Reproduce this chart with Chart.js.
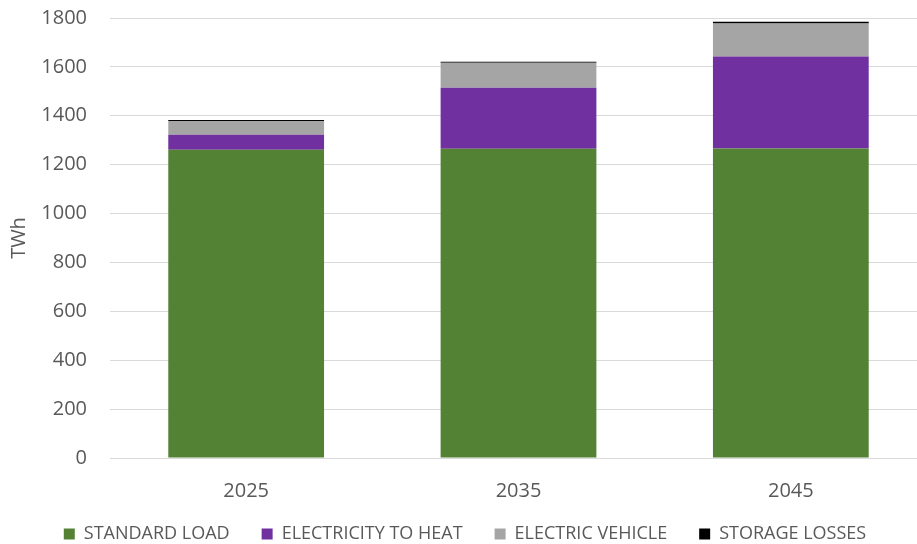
<!DOCTYPE html>
<html>
<head>
<meta charset="utf-8">
<script src="https://cdn.jsdelivr.net/npm/chart.js@4"></script>
<style>
  html, body { margin: 0; padding: 0; background: #fff; overflow: hidden; }
  .wrap { width: 930px; height: 601px; margin-top: -17px; position: relative; }
</style>
</head>
<body>
<div class="wrap"><canvas id="myChart"></canvas></div>
<script>
// data
const years = ["2025", "2035", "2045"];
const standardLoad = [1261, 1265, 1266];
const electricityToHeat = [61, 250, 376];
const electricVehicle = [57, 102, 136];
const storageLosses = [4, 4, 7];
const yTicks = [0, 200, 400, 600, 800, 1000, 1200, 1400, 1600, 1800];

const textColor = "#595959";
const fontFamily = "'Open Sans', sans-serif";
const legendLiftPx = 31;

// setup
const data = {
  labels: years,
  datasets: [
    { label: "STANDARD LOAD", data: standardLoad, backgroundColor: "#548235" },
    { label: "ELECTRICITY TO HEAT", data: electricityToHeat, backgroundColor: "#7030A0" },
    { label: "ELECTRIC VEHICLE", data: electricVehicle, backgroundColor: "#A5A5A5" },
    { label: "STORAGE LOSSES", data: storageLosses, backgroundColor: "#000000" },
  ],
};

// pull the legend up closer to the year labels
const legendLift = {
  id: "legendLift",
  afterLayout(chart) {
    chart.legend.top -= legendLiftPx;
    chart.legend.bottom -= legendLiftPx;
  },
};

// config
const config = {
  type: "bar",
  data,
  plugins: [legendLift],
  options: {
    responsive: true,
    maintainAspectRatio: false,
    animation: false,
    datasets: {
      bar: { categoryPercentage: 1, barPercentage: 0.572, borderWidth: 0 },
    },
    layout: { padding: { top: 1, right: 3, left: 3, bottom: 0 } },
    plugins: {
      tooltip: { enabled: false },
      legend: {
        position: "bottom",
        labels: {
          color: textColor,
          font: { family: fontFamily, size: 18 },
          boxWidth: 11,
          boxHeight: 11,
          padding: 32,
        },
      },
    },
    scales: {
      x: {
        stacked: true,
        grid: { display: false, drawTicks: false },
        border: { display: false },
        ticks: { color: textColor, font: { family: fontFamily, size: 20 }, padding: 21 },
      },
      y: {
        stacked: true,
        min: 0,
        max: 1800,
        afterBuildTicks: (axis) => {
          axis.ticks = yTicks.map((v) => ({ value: v }));
        },
        afterFit: (axis) => {
          axis.width = 107;
        },
        grid: { color: "#d9d9d9", lineWidth: 1, drawTicks: false },
        border: { display: false },
        ticks: {
          color: textColor,
          font: { family: fontFamily, size: 20 },
          padding: 23,
          callback: (value) => String(value),
        },
        title: {
          display: true,
          text: "TWh",
          color: textColor,
          font: { family: fontFamily, size: 20 },
          padding: { top: 4, bottom: 10 },
        },
      },
    },
  },
};

// init
const myChart = new Chart(document.getElementById("myChart"), config);
</script>
</body>
</html>
